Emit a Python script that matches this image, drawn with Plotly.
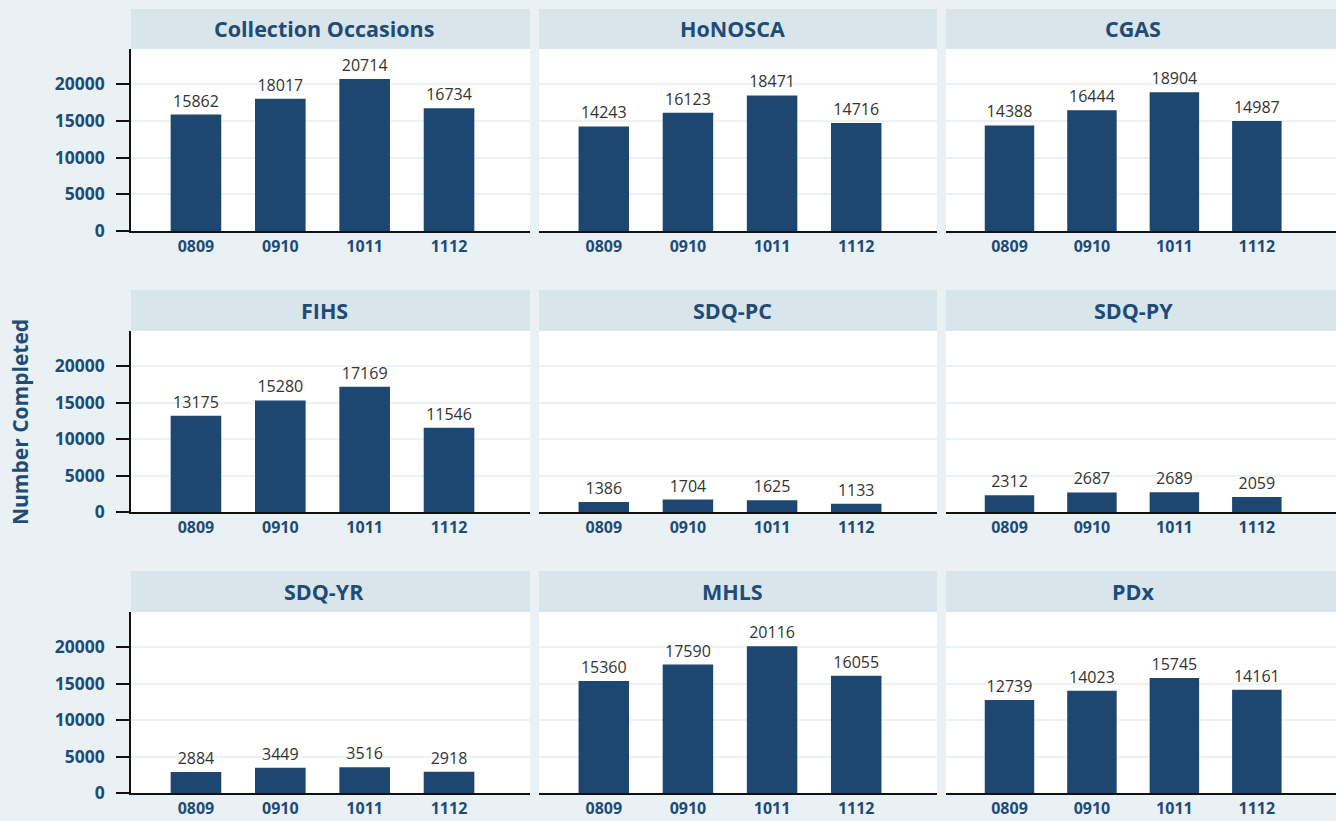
import plotly.graph_objects as go

# Data
years = ["0809", "0910", "1011", "1112"]
panel_names = ["Collection Occasions", "HoNOSCA", "CGAS",
               "FIHS", "SDQ-PC", "SDQ-PY",
               "SDQ-YR", "MHLS", "PDx"]
collection_occasions = [15862, 18017, 20714, 16734]
honosca = [14243, 16123, 18471, 14716]
cgas = [14388, 16444, 18904, 14987]
fihs = [13175, 15280, 17169, 11546]
sdq_pc = [1386, 1704, 1625, 1133]
sdq_py = [2312, 2687, 2689, 2059]
sdq_yr = [2884, 3449, 3516, 2918]
mhls = [15360, 17590, 20116, 16055]
pdx = [12739, 14023, 15745, 14161]
series = [collection_occasions, honosca, cgas, fihs, sdq_pc, sdq_py, sdq_yr, mhls, pdx]
y_ticks = [0, 5000, 10000, 15000, 20000]

W, H = 1336, 821
NAVY = "#1d4670"
TEXT_NAVY = "#1f4b77"
STRIP = "#d8e5eb"
BG = "#e9f1f4"
FONT = "Open Sans"

# panel geometry in pixels: (left, right, title centre) and (strip top, plot top, plot bottom)
cols = [(131, 530, 324), (539, 937, 732), (946, 1336, 1133)]
rows = [(9, 49, 231), (290, 331, 512), (571, 612, 793)]


def px_x(v):
    return v / W


def px_y(v):
    return 1 - v / H


fig = go.Figure()
layout = {}
shapes = []
annotations = []

for i, (name, vals) in enumerate(zip(panel_names, series)):
    r, c = divmod(i, 3)
    x0, x1, xc = cols[c]
    s_top, p_top, p_bot = rows[r]
    n = i + 1
    xa = "xaxis" if n == 1 else f"xaxis{n}"
    ya = "yaxis" if n == 1 else f"yaxis{n}"
    xref = "x" if n == 1 else f"x{n}"
    yref = "y" if n == 1 else f"y{n}"

    fig.add_trace(go.Bar(
        x=years, y=vals, xaxis=xref, yaxis=yref,
        marker=dict(color=NAVY, line=dict(width=0)),
        width=0.6,
        text=[str(v) for v in vals], textposition="outside",
        textfont=dict(family=FONT, size=16, color="#333333"),
        constraintext="none", cliponaxis=False,
        showlegend=False, hoverinfo="x+y",
    ))

    layout[xa] = dict(
        domain=[px_x(x0), px_x(x1)], anchor=yref, automargin=False,
        range=[-0.77, 3.96], type="category",
        showline=True, linecolor="#111111", linewidth=1.5,
        ticks="", showgrid=False, zeroline=False,
        tickfont=dict(family=FONT, size=16, color=TEXT_NAVY, weight="bold"),
    )
    left = c == 0
    layout[ya] = dict(
        domain=[px_y(p_bot), px_y(p_top)], anchor=xref, automargin=False,
        range=[0, 24800], tickvals=y_ticks, ticktext=[str(t) for t in y_ticks],
        showticklabels=left, showline=left, linecolor="#111111", linewidth=1.5,
        ticks="outside" if left else "", ticklen=13, tickcolor="#111111", tickwidth=1.5,
        ticklabelstandoff=8,
        showgrid=True, gridcolor="#edf2f5", gridwidth=2, zeroline=False,
        tickfont=dict(family=FONT, size=17.5, color=TEXT_NAVY, weight="bold"),
    )

    # white panel background and title strip
    shapes.append(dict(type="rect", xref="paper", yref="paper", layer="below",
                       x0=px_x(x0), x1=px_x(x1), y0=px_y(p_bot), y1=px_y(p_top),
                       fillcolor="white", line=dict(width=0)))
    shapes.append(dict(type="rect", xref="paper", yref="paper", layer="below",
                       x0=px_x(x0), x1=px_x(x1), y0=px_y(p_top), y1=px_y(s_top),
                       fillcolor=STRIP, line=dict(width=0)))
    annotations.append(dict(text=f"<b>{name}</b>", xref="paper", yref="paper",
                            x=px_x(xc), y=px_y((s_top + p_top) / 2),
                            xanchor="center", yanchor="middle", showarrow=False,
                            font=dict(family=FONT, size=21.5, color=TEXT_NAVY)))

annotations.append(dict(text="<b>Number Completed</b>", xref="paper", yref="paper",
                        x=px_x(20), y=px_y(422), textangle=-90,
                        xanchor="center", yanchor="middle", showarrow=False,
                        font=dict(family=FONT, size=21, color=TEXT_NAVY)))

fig.update_layout(
    width=W, height=H,
    margin=dict(l=0, r=0, t=0, b=0, autoexpand=False),
    paper_bgcolor=BG, plot_bgcolor="rgba(0,0,0,0)",
    shapes=shapes, annotations=annotations,
    bargap=0.4,
    **layout,
)

# drop the default page margin so the figure fills the window exactly
page_css = (
    "var s=document.documentElement.style, b=document.body.style;"
    "s.margin=b.margin='0'; s.padding=b.padding='0';"
    "s.overflow=b.overflow='hidden'; b.background='%s';" % BG
)
fig.write_html("out.html", config={"displayModeBar": False}, post_script=page_css)
